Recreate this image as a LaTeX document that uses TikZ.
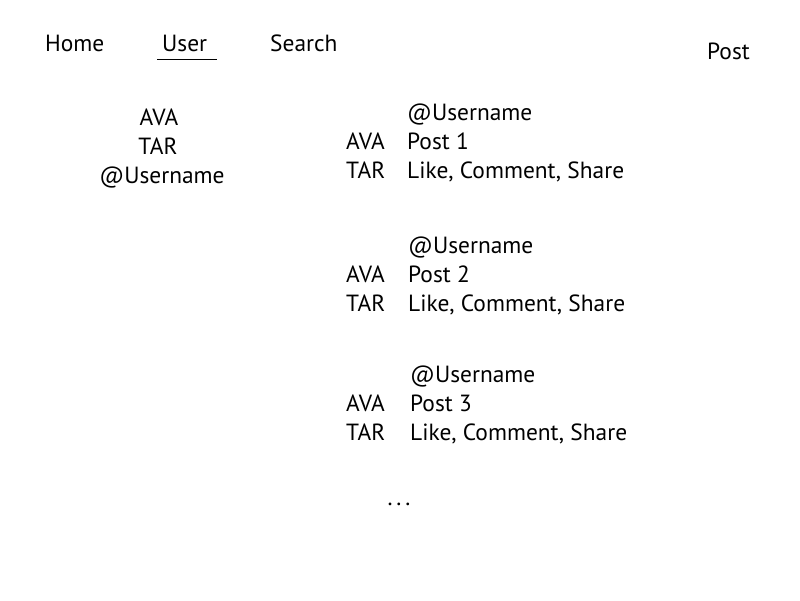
\documentclass[tikz,border=0pt]{standalone}
\usepackage{fontspec}
\setmainfont{PT Sans}
\begin{document}
\begin{tikzpicture}[x=1pt, y=-1pt,
  label/.style={inner sep=0pt, font=\fontsize{23.4}{28}\selectfont},
  left label/.style={label, anchor=base west},
  mid label/.style={label, anchor=base}]

\useasboundingbox (0,0) rectangle (800,600);

% menu
\node[left label] (home) at (45,51) {Home};
\node[left label] (user) at (162,51) {User};
\node[left label] (search) at (270,51) {Search};
\node[left label] (post) at (707,59) {Post};
\coordinate (ul1) at (157,59);
\coordinate (ul2) at (217,59);
\draw[thick] (ul1) -- (ul2);

% profile
\node[mid label] (pava) at (159,125) {AVA};
\node[mid label] (ptar) at (158,154) {TAR};
\node[mid label] (pname) at (162,183) {@Username};

% posts
\foreach \n/\y/\x in {1/120/407, 2/253/408, 3/382/410} {
  \node[left label] (name\n) at (\x,\y) {@Username};
  \node[left label] (ava\n) at (346,\y+29) {AVA};
  \node[left label] (text\n) at (\x,\y+29) {Post \n};
  \node[left label] (tar\n) at (346,\y+58) {TAR};
  \node[left label] (acts\n) at (\x,\y+58) {Like, Comment, Share};
}

\node[mid label] (more) at (399,505) {.\,.\,.};

\end{tikzpicture}
\end{document}
